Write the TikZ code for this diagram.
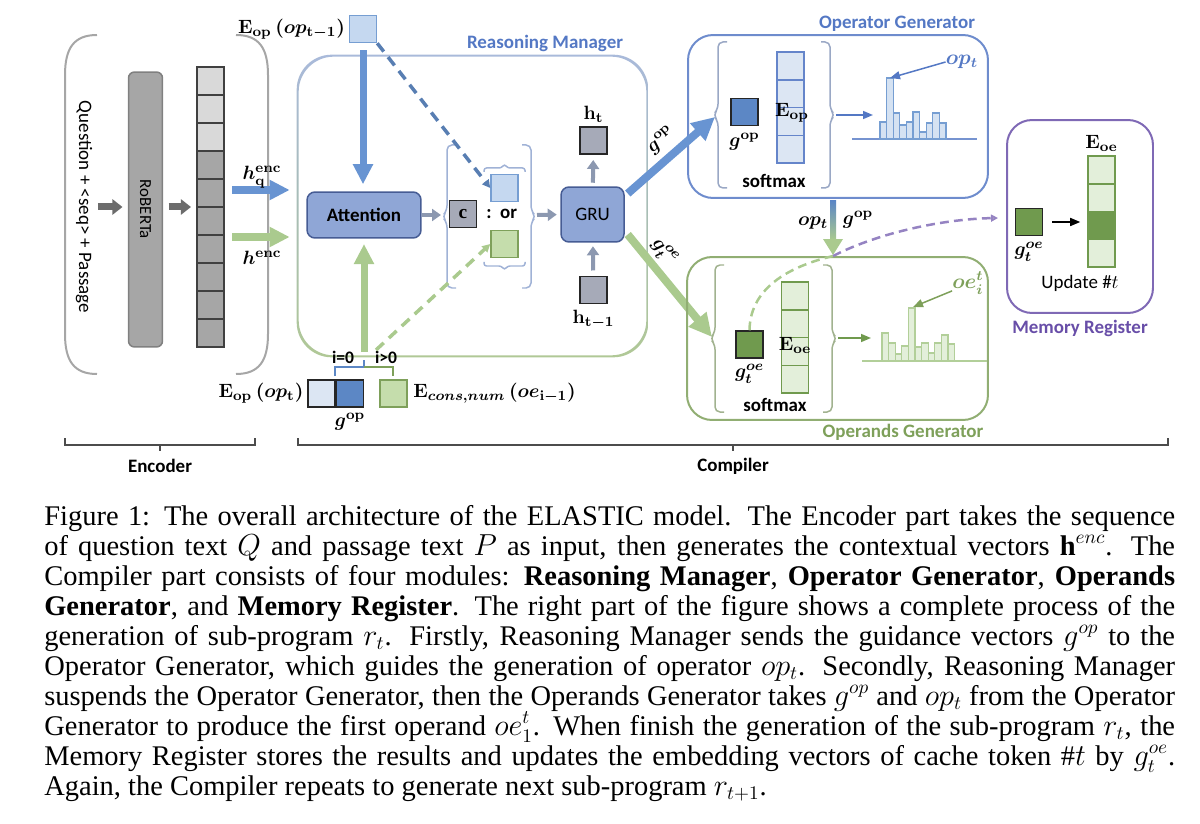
\documentclass[tikz,border=0pt]{standalone}
\usepackage{amsmath}
\usepackage{fontspec}
\setmainfont{Liberation Serif}
\newfontfamily\calibri{Carlito}
\usetikzlibrary{arrows.meta,calc,positioning}
\usepackage{xcolor}

\definecolor{arrB}{RGB}{104,148,210}
\definecolor{arrG}{RGB}{170,202,142}
\definecolor{modB}{RGB}{143,166,214}
\definecolor{modD}{RGB}{70,92,148}
\definecolor{sqLB}{RGB}{197,216,240}
\definecolor{sqLBd}{RGB}{118,158,210}
\definecolor{sqDB}{RGB}{92,135,197}
\definecolor{sqLG}{RGB}{197,221,172}
\definecolor{sqDG}{RGB}{112,154,78}
\definecolor{cellB}{RGB}{220,230,243}
\definecolor{cellG}{RGB}{227,239,218}
\definecolor{ttlB}{RGB}{84,120,196}
\definecolor{ttlG}{RGB}{126,160,90}
\definecolor{ttlP}{RGB}{104,78,168}
\definecolor{greyA}{RGB}{166,166,166}
\definecolor{greyL}{RGB}{217,217,217}
\definecolor{greyS}{RGB}{166,170,184}
\definecolor{encG}{RGB}{108,108,108}
\definecolor{smG}{RGB}{140,152,176}
\definecolor{brB}{RGB}{160,178,214}
\definecolor{brG}{RGB}{176,200,150}

% curly brackets drawn as paths: [style]{x}{top}{bottom}
\newcommand{\openbr}[4][]{\draw[#1,rounded corners=0.1cm] ({#2+9},#3) -- (#2,#3) -- (#2,{(#3+#4)/2-6}) -- ({#2-5},{(#3+#4)/2}) -- (#2,{(#3+#4)/2+6}) -- (#2,#4) -- ({#2+9},#4);}
\newcommand{\closebr}[4][]{\draw[#1,rounded corners=0.1cm] ({#2-9},#3) -- (#2,#3) -- (#2,{(#3+#4)/2-6}) -- ({#2+5},{(#3+#4)/2}) -- (#2,{(#3+#4)/2+6}) -- (#2,#4) -- ({#2-9},#4);}
% small horizontal brackets: [style]{x1}{x2}{y}{+-tip}
\newcommand{\flatbr}[5][]{\draw[#1,rounded corners=0.05cm] (#2,{#4-#5}) -- (#2,#4) -- ({(#2+#3)/2-3},#4) -- ({(#2+#3)/2},{#4+#5}) -- ({(#2+#3)/2+3},#4) -- (#3,#4) -- (#3,{#4-#5});}

\begin{document}
\begin{tikzpicture}[x=0.02cm,y=-0.02cm,font=\calibri\fontsize{10.8}{13}\selectfont,
  sq/.style={draw,line width=0.03cm,minimum size=0.54cm,inner sep=0},
  cell/.style={draw,line width=0.03cm,minimum width=0.54cm,minimum height=0.555cm,inner sep=0},
  mod/.style={draw=modD,fill=modB,rounded corners=0.16cm,line width=0.03cm,inner sep=0},
  mlab/.style={inner sep=0,font=\fontsize{11}{13}\selectfont\boldmath},
  ttl/.style={inner sep=0,font=\calibri\fontsize{10.8}{13}\selectfont\bfseries},
  fatblue/.style={draw=arrB,line width=0.16cm,-{Triangle[length=0.4cm,width=0.38cm]}},
  fatgreen/.style={draw=arrG,line width=0.16cm,-{Triangle[length=0.4cm,width=0.38cm]}},
  encarr/.style={draw=encG,line width=0.14cm,-{Triangle[length=0.2cm,width=0.3cm]}},
  smallarr/.style={draw=smG,line width=0.08cm,-{Triangle[length=0.18cm,width=0.24cm]}},
  thinarr/.style={line width=0.03cm,-{Triangle[length=0.2cm,width=0.16cm]}},
  dasharr/.style={line width=0.07cm,dash pattern=on 6pt off 4pt,-{Triangle[length=0.16cm,width=0.16cm]}},
  capline/.style={anchor=base west,inner sep=0,font=\normalfont\fontsize{16.2}{17}\selectfont}]
\useasboundingbox (0,0) rectangle (1200,824);

% ---------- Encoder
\draw[gray!70,line width=0.04cm] (97,35) .. controls (74,35) and (65,48) .. (65,75) -- (65,334) .. controls (65,361) and (74,374) .. (97,374);
\draw[gray!70,line width=0.04cm] (236,35) .. controls (259,35) and (268,48) .. (268,75) -- (268,334) .. controls (268,361) and (259,374) .. (236,374);
\node[inner sep=0,rotate=-90] (qp) at (84,207) {Question + <seq> + Passage};
\node[draw=gray,fill=greyA,rounded corners=0.12cm,line width=0.03cm,rotate=-90,minimum width=5.5cm,minimum height=0.68cm,inner sep=0,font=\calibri\fontsize{9.6}{11}\selectfont] (rob) at (145.5,209.5) {RoBERTa};
\foreach \i/\c in {0/greyL,1/greyL,2/greyL,3/greyA,4/greyA,5/greyA,6/greyA,7/greyA,8/greyA,9/greyA}
  \node[cell,draw=black!75,fill=\c] (e\i) at (210.5,{81+28*\i}) {};
\draw[encarr,shorten <=3pt,shorten >=3pt] (qp.north) -- (qp.north -| rob.south);
\draw[encarr,shorten <=3pt,shorten >=3pt] (rob.north |- qp.north) -- (qp.north -| e4.west);

% ---------- Reasoning Manager
\node[minimum width=7.02cm,minimum height=6.04cm,inner sep=0] (rm) at (472.5,206) {};
\shade[top color=brB!90,bottom color=brG,middle color=brB!50!brG,even odd rule,rounded corners=0.7cm]
  (rm.north west) rectangle (rm.south east)
  ([shift={(2,2)}]rm.north west) rectangle ([shift={(-2,-2)}]rm.south east);
\node[ttl,text=ttlB] (rmlab) at (545,43) {Reasoning Manager};

\coordinate (hq) at (232,190);
\coordinate (he) at (232,237);
\draw[fatblue,shorten >=4pt] (hq) -- (hq -| rm.west);
\draw[fatgreen,shorten >=4pt] (he) -- (he -| rm.west);
\node[mlab] (hqlab) at (262,177) {$h^{\mathbf{enc}}_{\mathbf{q}}$};
\node[mlab] (helab) at (262,258) {$h^{\mathbf{enc}}$};

\node[sq,fill=sqLB,draw=sqLBd] (eprev) at (363,29) {};
\node[mlab,left=2pt of eprev] (eprevlab) {$\mathbf{E}_{\mathbf{op}}\,(op_{\mathbf{t-1}})$};

\node[mod,minimum width=2.28cm,minimum height=0.92cm] (att) at (364,215) {\bfseries Attention};
\draw[fatblue,line width=0.14cm,shorten <=4pt,shorten >=4pt] (eprev.south) -- (eprev.south |- att.north);

\openbr[brB,line width=0.03cm]{447}{145}{288}
\closebr[brB,line width=0.03cm]{531}{145}{288}
\node[sq,fill=greyS,draw=black!85,font=\normalfont\fontsize{11}{13}\selectfont\bfseries] (cbox) at (463,214) {c};
\node[inner sep=0,right=5pt of cbox,font=\calibri\fontsize{10.8}{13}\selectfont\bfseries] (orlab) {:\ \ or};
\node[sq,fill=sqLB,draw=sqLBd] (kb) at (504.5,188) {};
\node[sq,fill=sqLG,draw=ttlG] (kg) at (504.5,244) {};
\flatbr[brB,line width=0.03cm]{484}{525}{168}{-4}
\flatbr[brB,line width=0.03cm]{484}{525}{266}{4}
\draw[dasharr,draw=arrB!85!black] (eprev.south east) -- (kb.west);

\coordinate (lbr) at (441,215);
\coordinate (rbr) at (537,215);
\draw[smallarr] (att.east) -- (lbr);
\node[mod,minimum width=1.26cm,minimum height=1.1cm] (gru) at (592.5,214.5) {GRU};
\draw[smallarr,shorten >=2pt] (rbr) -- (gru.west);
\node[sq,fill=greyS,draw=black!85] (ht) at (593.5,140.5) {};
\node[sq,fill=greyS,draw=black!85] (htm) at (593.5,290) {};
\node[mlab,above=2pt of ht] (htlab) {$\mathbf{h}_{\mathbf{t}}$};
\node[mlab,below=3pt of htm] (htmlab) {$\mathbf{h}_{\mathbf{t-1}}$};
\draw[smallarr,shorten <=2pt,shorten >=3pt] (gru) -- (ht);
\draw[smallarr,shorten <=3pt,shorten >=2pt] (htm) -- (gru);

% bottom inputs of the manager
\node[sq,fill=cellB,draw=black!85] (eopt) at (321.5,393.5) {};
\node[sq,fill=sqDB,draw=black!85,right=0pt of eopt] (gopb) {};
\node[sq,fill=sqLG,draw=ttlG] (eoe) at (393.5,393.5) {};
\node[mlab,left=2pt of eopt] (eoptlab) {$\mathbf{E}_{\mathbf{op}}\,(op_{\mathbf{t}})$};
\node[mlab,below=3pt of gopb] (gopblab) {$g^{\mathbf{op}}$};
\node[mlab,right=3pt of eoe] (eoelab) {$\mathbf{E}_{cons,num}\,(oe_{\mathbf{i-1}})$};
\draw[sqDB,line width=0.05cm] (335,376) -- (335,367) -- (364,367) -- (364,360);
\draw[ttlG,line width=0.05cm] (364,367) -- (393,367) -- (393,376);
\node[ttl,font=\calibri\fontsize{10}{12}\selectfont\bfseries] (izero) at (343,357) {i=0};
\node[ttl,font=\calibri\fontsize{10}{12}\selectfont\bfseries] (ipos) at (386,357) {i>0};
\coordinate (bmid) at (364,352);
\draw[fatgreen,line width=0.14cm,shorten >=3pt] (bmid) -- (bmid |- att.south);
\draw[dasharr,draw=arrG] (376,350) -- (kg.west);

% ---------- Operator Generator
\node[draw=ttlB!85,line width=0.04cm,rounded corners=0.5cm,minimum width=6cm,minimum height=3.26cm,inner sep=0] (og) at (838,116.5) {};
\node[ttl,text=ttlB] (oglab) at (897,24) {Operator Generator};
\openbr[brB!80!gray,line width=0.03cm]{718}{42}{188}
\closebr[brB!80!gray,line width=0.03cm]{830}{42}{188}
\node[sq,fill=sqDB,draw=black!85] (gop) at (744.5,112) {};
\node[mlab,below=4pt of gop] (goplab) {$g^{\mathbf{op}}$};
\foreach \i in {0,...,3}
  \node[cell,fill=cellB,draw=ttlB!90] (ob\i) at (790.5,{66+27.75*\i}) {};
\node[mlab] (eoplab) at (792,113) {$\mathbf{E}_{\mathbf{op}}$};
\node[ttl] (smx1) at (774,181) {softmax};
\coordinate (ogout) at (836,115);
\coordinate (oghist) at (873,115);
\draw[thinarr,draw=ttlB,fill=ttlB] (ogout) -- (oghist);
\draw[ttlB!80,line width=0.03cm] (852,139) -- (977,139);
\foreach \t [count=\k from 0] in {122,78,113,125,122,112,132,123,113,123}
  \draw[fill=cellB!70!sqLB,draw=sqLBd,line width=0.025cm] ({880+6.6*\k},139) rectangle ({886.6+6.6*\k},\t);
\node[inner sep=0,text=ttlB,font=\fontsize{11.5}{13}\selectfont\boldmath] (optlab) at (962,62) {$op_t$};
\coordinate (optop) at (890,78);
\draw[thinarr,draw=ttlB,fill=ttlB] (optlab.west) -- (optop);

% g^op and g_t^oe guidance arrows
\coordinate (ogin) at (715,117);
\coordinate (oein) at (712,337);
\draw[fatblue,-{Triangle[length=0.46cm,width=0.44cm]}] ($(gru.east)+(3,-21)$) -- (ogin);
\draw[fatgreen,-{Triangle[length=0.46cm,width=0.44cm]}] ($(gru.east)+(3,20)$) -- (oein);
\node[mlab,rotate=41] (gopglab) at (661,140) {$g^{\mathbf{op}}$};
\node[mlab,rotate=-50] (goeglab) at (664,252) {$g^{oe}_t$};

% ---------- Operands Generator
\node[draw=ttlG!85,line width=0.04cm,rounded corners=0.5cm,minimum width=6.02cm,minimum height=3.26cm,inner sep=0] (oeg) at (837.5,338.5) {};
\node[ttl,text=ttlG] (oeglab) at (903,432) {Operands Generator};
\openbr[brG!70!gray,line width=0.03cm]{715}{265}{412}
\closebr[brG!70!gray,line width=0.03cm]{832}{265}{412}
\node[sq,fill=sqDG,draw=black!85] (goe) at (749.5,344.5) {};
\node[mlab,below=3pt of goe] (goelab) {$g^{oe}_t$};
\foreach \i in {0,...,3}
  \node[cell,fill=cellG,draw=sqDG] (gb\i) at (795,{296+27.75*\i}) {};
\node[mlab] (eoeglab) at (795,345) {$\mathbf{E}_{\mathbf{oe}}$};
\node[ttl] (smx2) at (775,405) {softmax};
\coordinate (oeout) at (838,338);
\coordinate (oehist) at (871,338);
\draw[thinarr,draw=sqDG,fill=sqDG] (oeout) -- (oehist);
\draw[arrG!90,line width=0.03cm] (862,361) -- (987,361);
\foreach \t [count=\k from 0] in {333,343,354,346,308,347,343,353,343,335,344}
  \draw[fill=cellG,draw=arrG!90,line width=0.025cm] ({882+6.6*\k},361) rectangle ({888.6+6.6*\k},\t);
\node[inner sep=0,text=ttlG,font=\fontsize{11.5}{13}\selectfont\boldmath] (oeilab) at (968,283) {$oe^t_i$};
\coordinate (oetop) at (913,307);
\draw[thinarr,draw=ttlG,fill=ttlG] ($(oeilab.south west)+(0,-4)$) -- (oetop);

% op_t and g^op passed down
\coordinate (opS) at ($(og.south)+(-5,0)$);
\coordinate (opE) at (opS |- oeg.north);
\shade[top color=sqDB,bottom color=arrG] ($(opS)+(-3,2)$) rectangle ($(opE)+(3,-16)$);
\fill[arrG] ($(opE)+(-10,-17)$) -- ($(opE)+(10,-17)$) -- ($(opE)+(0,-1)$) -- cycle;
\node[mlab] (opdlab) at (813,223) {$op_t$};
\node[mlab] (gopdlab) at (858,220) {$g^{\mathbf{op}}$};

% ---------- Memory Register
\node[draw=ttlP!85,line width=0.04cm,rounded corners=0.5cm,minimum width=2.92cm,minimum height=3.86cm,inner sep=0] (mr) at (1080,216.5) {};
\node[ttl,text=ttlP] (mrlab) at (1080,328) {Memory Register};
\foreach \i/\c in {0/cellG,1/cellG,2/sqDG,3/cellG}
  \node[cell,fill=\c,draw=sqDG] (mb\i) at (1101.5,{170+27.75*\i}) {};
\node[mlab,above=2pt of mb0] (mreoe) {$\mathbf{E}_{\mathbf{oe}}$};
\node[sq,fill=sqDG,draw=black!85] (mrg) at (1029,222) {};
\node[mlab,below=3pt of mrg] (mrglab) {$g^{oe}_t$};
\draw[thinarr,fill=black,shorten <=5pt,shorten >=4pt] (mrg.east) -- (mrg.east -| mb2.west);
\node[inner sep=0] (upd) at (1080,283) {Update \#$t$};

% g_t^oe stored in the register
\coordinate (mrin) at (998,218);
\draw[arrG,line width=0.05cm,dash pattern=on 5pt off 3pt] (goe.north) .. controls (750,285) and (795,265) .. (opE);
\draw[ttlP!70,line width=0.05cm,dash pattern=on 5pt off 3pt,-{Triangle[length=0.14cm,width=0.14cm,fill=gray!50]}] (opE) .. controls (880,232) and (945,219) .. (mrin);

% ---------- part brackets
\draw[black!70,line width=0.03cm] (65,438) -- (65,445) -- (255,445) -- (255,438) (160,445) -- (160,451);
\draw[black!70,line width=0.03cm] (298,438) -- (298,445) -- (1168,445) -- (1168,438) (733,445) -- (733,451);
\node[ttl] (enclab) at (160,466) {Encoder};
\node[ttl] (complab) at (733,466) {Compiler};

% ---------- caption
\node[capline] (cap1) at (44,525) {\makebox[22.62cm][s]{Figure 1: The overall architecture of the ELASTIC model. The Encoder part takes the sequence}};
\node[capline] (cap2) at (44,555) {\makebox[22.62cm][s]{of question text $Q$ and passage text $P$ as input, then generates the contextual vectors $\mathbf{h}^{enc}$. The}};
\node[capline] (cap3) at (44,585) {\makebox[22.62cm][s]{Compiler part consists of four modules: \textbf{Reasoning Manager}, \textbf{Operator Generator}, \textbf{Operands}}};
\node[capline] (cap4) at (44,615) {\makebox[22.62cm][s]{\textbf{Generator}, and \textbf{Memory Register}. The right part of the figure shows a complete process of the}};
\node[capline] (cap5) at (44,645) {\makebox[22.62cm][s]{generation of sub-program $r_t$. Firstly, Reasoning Manager sends the guidance vectors $g^{op}$ to the}};
\node[capline] (cap6) at (44,675) {\makebox[22.62cm][s]{Operator Generator, which guides the generation of operator $op_t$. Secondly, Reasoning Manager}};
\node[capline] (cap7) at (44,705) {\makebox[22.62cm][s]{suspends the Operator Generator, then the Operands Generator takes $g^{op}$ and $op_t$ from the Operator}};
\node[capline] (cap8) at (44,735) {\makebox[22.62cm][s]{Generator to produce the first operand $oe^t_1$. When finish the generation of the sub-program $r_t$, the}};
\node[capline] (cap9) at (44,765) {\makebox[22.62cm][s]{Memory Register stores the results and updates the embedding vectors of cache token $\#t$ by $g^{oe}_t$.}};
\node[capline] (cap10) at (44,795) {Again, the Compiler repeats to generate next sub-program $r_{t+1}$.};
\end{tikzpicture}
\end{document}
